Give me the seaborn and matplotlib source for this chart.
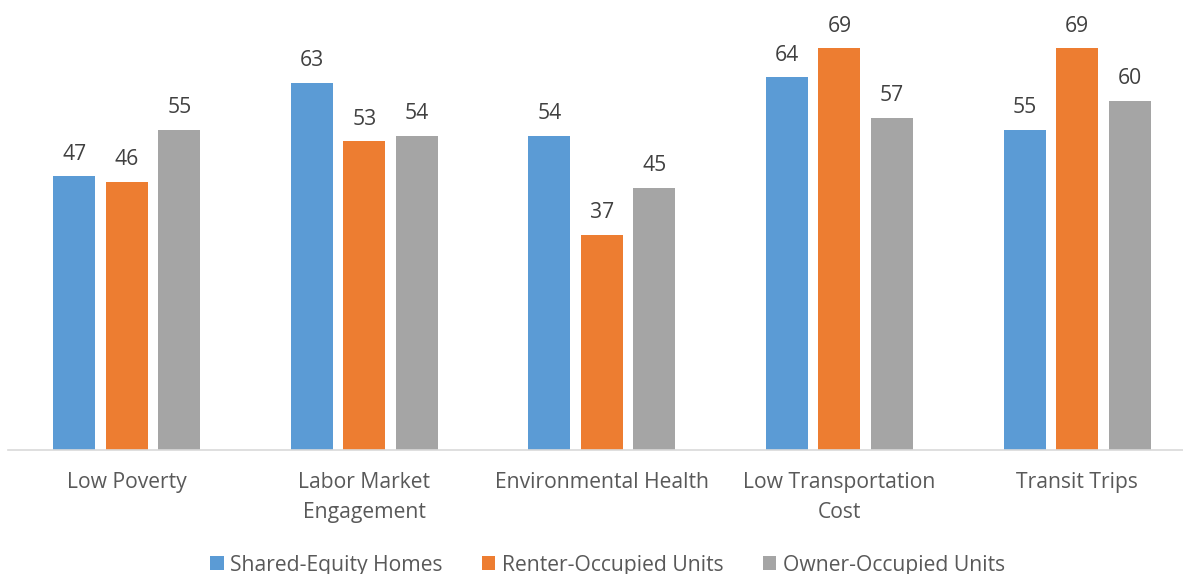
import numpy as np
import pandas as pd
import matplotlib
matplotlib.use("Agg")
import matplotlib.pyplot as plt
import seaborn as sns

# chart data
categories = ["Low Poverty", "Labor Market\nEngagement", "Environmental Health",
              "Low Transportation\nCost", "Transit Trips"]
series_names = ["Shared-Equity Homes", "Renter-Occupied Units", "Owner-Occupied Units"]
shared_equity = [47, 63, 54, 64, 55]
renter_occupied = [46, 53, 37, 69, 69]
owner_occupied = [55, 54, 45, 57, 60]
colors = ["#5B9BD5", "#ED7D31", "#A5A5A5"]

# long format table for seaborn
df = pd.DataFrame({
    "Category": categories * 3,
    "Series": np.repeat(series_names, len(categories)),
    "Value": shared_equity + renter_occupied + owner_occupied,
})

sns.set_theme(style="white")
plt.rcParams["font.family"] = ["Open Sans", "DejaVu Sans"]
text_color = "#595959"

fig = plt.figure(figsize=(11.83, 5.74), dpi=100)
ax = fig.add_axes([8 / 1183, 124 / 574, 1 - 8 / 1183, 450 / 574])

sns.barplot(data=df, x="Category", y="Value", hue="Series",
            order=categories, hue_order=series_names, palette=colors,
            width=0.663, gap=0.2, saturation=1, linewidth=0, ax=ax)

for cont in ax.containers:
    ax.bar_label(cont, fmt="%d", padding=8.5, fontsize=15.2, color="#404040")

ax.set_ylim(0, 77.3)
ax.set_xlim(-0.5, 4.446)
ax.set_yticks([])
ax.set_xlabel("")
ax.set_ylabel("")
ax.tick_params(axis="x", length=0, pad=16, labelsize=15.2, labelcolor=text_color)
for lbl in ax.get_xticklabels():
    lbl.set_linespacing(1.55)
for s in ["top", "left", "right"]:
    ax.spines[s].set_visible(False)
ax.spines["bottom"].set_color("#D9D9D9")
ax.spines["bottom"].set_linewidth(1.2)

sns.move_legend(ax, "lower center", bbox_to_anchor=(0.5 + 12 / 1183, -124 / 450 - 10 / 450),
                ncol=3, frameon=False, title=None, fontsize=15.2,
                handlelength=0.65, handleheight=0.65, handletextpad=0.3,
                columnspacing=1.85, borderaxespad=0)
for t in ax.get_legend().get_texts():
    t.set_color(text_color)

fig.savefig("out.png", dpi=100)
